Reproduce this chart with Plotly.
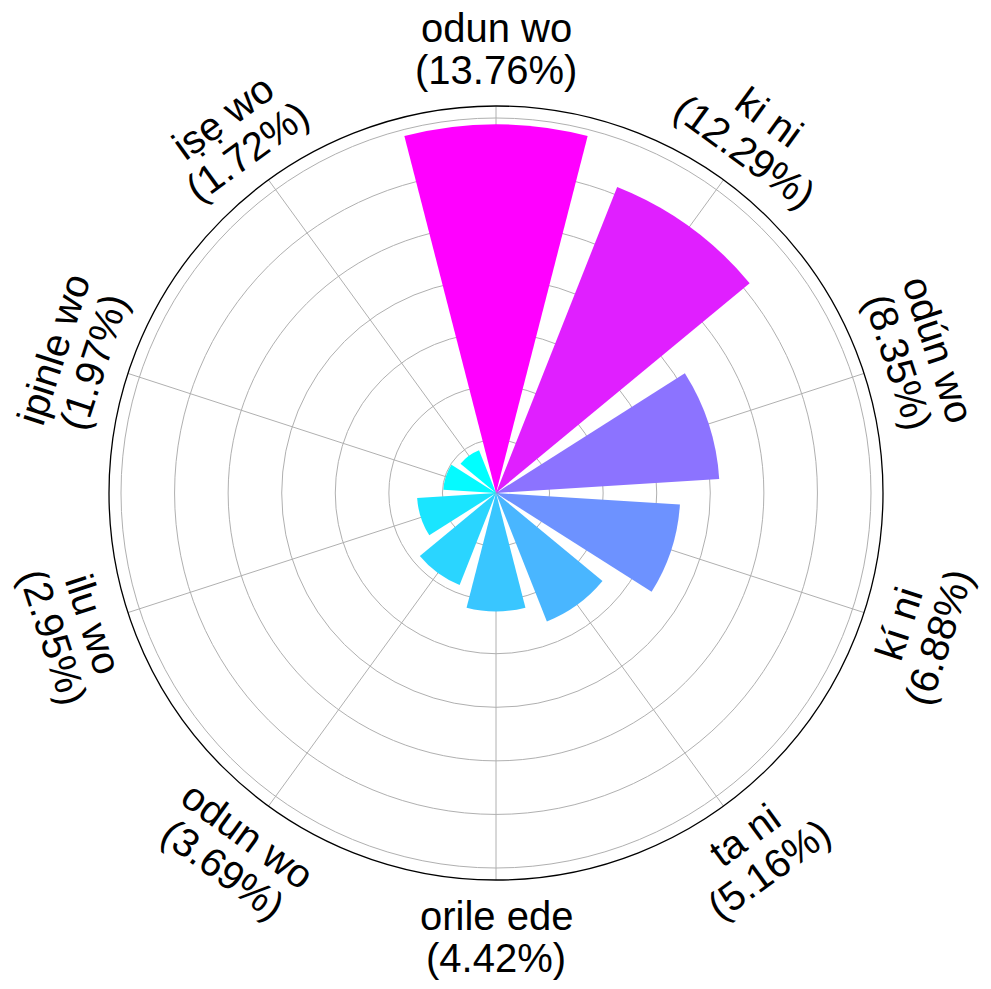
import math
import plotly.graph_objects as go

# ---- data ----
categories = ["odun wo", "ki ni", "odún wo", "kí ni", "ta ni",
              "orile ede", "odun wo", "ilu wo", "ipinle wo", "iṣẹ wo"]
percentages = [13.76, 12.29, 8.35, 6.88, 5.16, 4.42, 3.69, 2.95, 1.97, 1.72]
angles_deg = [i * 36 for i in range(len(categories))]
ring_ticks = [2, 4, 6, 8, 10, 12, 14]

W, H = 991, 989
CX, CY = 496, 493          # polar centre in px
R_PX = 387                 # polar radius in px
LABEL_R = 444              # label centre radius in px
HALF_LINE = 21             # half line spacing px
FS = 40

fig = go.Figure()
fig.add_trace(go.Barpolar(
    r=percentages,
    theta=angles_deg,
    width=[28.8] * len(percentages),
    marker=dict(
        color=percentages,
        colorscale=[[0, "#00FFFF"], [1, "#FF00FF"]],
        cmin=min(percentages), cmax=max(percentages),
        line=dict(width=0),
    ),
    opacity=1,
    hoverinfo="skip",
))

rmax = max(percentages) * 1.05

fig.update_layout(
    width=W, height=H,
    margin=dict(l=0, r=0, t=0, b=0),
    paper_bgcolor="white",
    showlegend=False,
    polar=dict(
        domain=dict(x=[(CX - R_PX) / W, (CX + R_PX) / W],
                    y=[(H - CY - R_PX) / H, (H - CY + R_PX) / H]),
        bgcolor="white",
        radialaxis=dict(range=[0, rmax], tickmode="array", tickvals=ring_ticks,
                        showticklabels=False, ticks="", showline=False,
                        gridcolor="#b0b0b0", gridwidth=1, layer="below traces"),
        angularaxis=dict(rotation=90, direction="clockwise",
                         tickmode="array", tickvals=angles_deg,
                         showticklabels=False, ticks="",
                         gridcolor="#b0b0b0", gridwidth=1,
                         showline=True, linecolor="black", linewidth=1.3,
                         layer="below traces"),
    ),
)

annotations = []
for cat, pct, ang in zip(categories, percentages, angles_deg):
    a = math.radians(ang)
    cx = CX + LABEL_R * math.sin(a)
    cy = CY - LABEL_R * math.cos(a)
    # text rotation (clockwise), flipped for lower half
    if 90 < ang < 270:
        ta = ang - 180
    else:
        ta = ang if ang <= 90 else ang - 360
    t = math.radians(ta)
    upx, upy = math.sin(t), -math.cos(t)   # screen "up" direction of the text
    lines = [cat, f"({pct:.2f}%)"]
    offs = [HALF_LINE, -HALF_LINE]
    for txt, o in zip(lines, offs):
        sx = cx + o * upx
        sy = cy + o * upy
        annotations.append(dict(
            x=sx / W, y=1 - sy / H, xref="paper", yref="paper",
            text=txt, showarrow=False, textangle=ta,
            xanchor="center", yanchor="middle",
            font=dict(family="Liberation Sans, Arial, sans-serif", size=FS, color="black"),
        ))
fig.update_layout(annotations=annotations)

fig.write_html("out.html")
